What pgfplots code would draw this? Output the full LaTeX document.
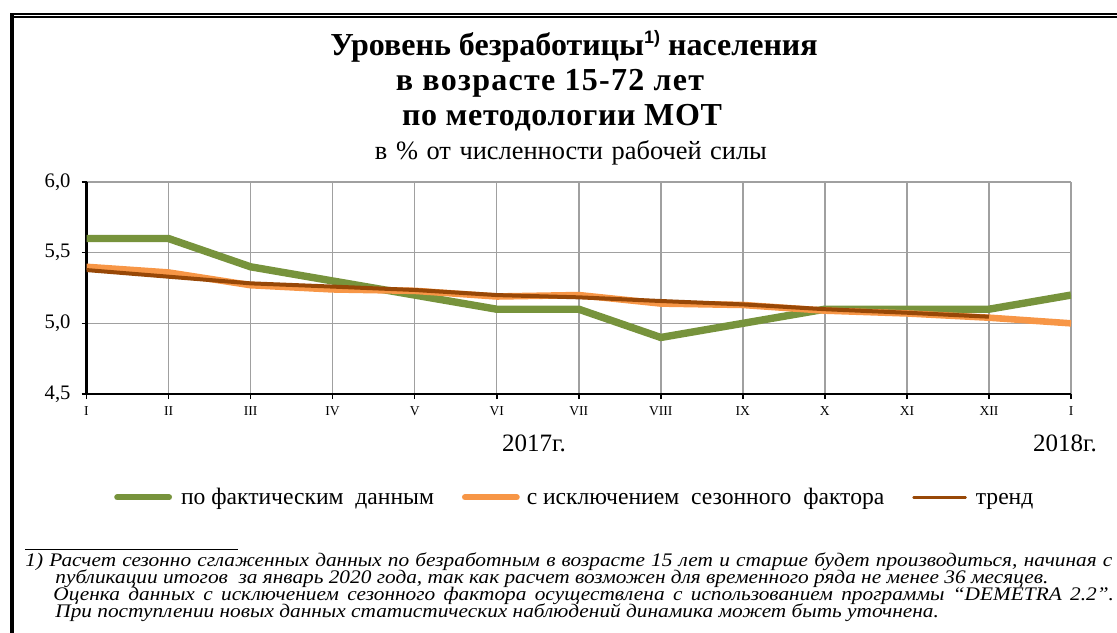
\documentclass[border=0pt]{standalone}
\usepackage{fontspec}
\setmainfont{Liberation Serif}
\newfontfamily\notef[FakeStretch=1.11]{Liberation Serif}
\newfontfamily\arialf{Liberation Sans}
\usepackage{pgfplots}
\pgfplotsset{compat=1.18}
\definecolor{cgreen}{HTML}{77933C}
\definecolor{corange}{HTML}{F79646}
\definecolor{cbrown}{HTML}{984807}
\definecolor{cgrid}{HTML}{A0A0A0}
\begin{document}
\begin{tikzpicture}[x=0.5bp,y=-0.5bp]
\path[use as bounding box] (0,0) rectangle (1117,633);
% frame
\draw[line width=1bp] (10,14.3) -- (1117,14.3);
\draw[line width=0.7bp] (14,17) -- (1117,17);
\draw[line width=2bp] (12,13.3) -- (12,633);
% titles
\begin{scope}[every node/.style={anchor=base, inner sep=0pt, font=\bfseries\fontsize{16bp}{18bp}\selectfont}]
\node at (574,56) {Уровень безработицы\raisebox{6bp}{\arialf\bfseries\fontsize{9bp}{9bp}\selectfont 1)} населения};
\node at (550,91) {\addfontfeature{LetterSpace=4}в возрасте 15-72 лет};
\node at (562,126) {\addfontfeature{LetterSpace=2}по методологии МОТ};
\end{scope}
\node[anchor=base, inner sep=0pt, font=\fontsize{13.2bp}{14bp}\selectfont] at (571,160) {\makebox[196bp][s]{в \% от численности рабочей силы}};
\begin{axis}[
  at={(43.25bp,-197bp)}, anchor=south west,
  scale only axis, width=492.25bp, height=106bp,
  xmin=0, xmax=12, ymin=4.5, ymax=6,
  xtick={0,...,12},
  xticklabels={I,II,III,IV,V,VI,VII,VIII,IX,X,XI,XII,I},
  ytick={4.5,5,5.5,6},
  axis x line*=bottom, axis y line*=left,
  axis line style={black, line width=1.1bp},
  tick align=outside,
  major tick length=2.5bp,
  tick style={black, line width=0.8bp},
  grid=major,
  grid style={cgrid, line width=0.75bp},
  /pgf/number format/.cd, use comma, fixed, fixed zerofill, precision=1, assume math mode=true,
  /pgfplots/.cd,
  yticklabel style={font=\fontsize{10.3bp}{11bp}\selectfont, xshift=-2bp},
  xticklabel style={font=\fontsize{6.8bp}{7bp}\selectfont, yshift=-0.5bp},
  legend columns=3,
  legend style={draw=none, fill=none, at={(0.497,-0.487)}, anchor=center,
    font=\fontsize{11.8bp}{12bp}\selectfont,
    /tikz/every even column/.append style={column sep=12bp}},
  legend cell align=left,
]
\addplot[cgreen, line width=3.7bp,
  legend image code/.code={\draw[cgreen, line width=2.9bp, line cap=round] (0bp,0bp) -- (26bp,0bp);}]
  coordinates {(0,5.6)(1,5.6)(2,5.4)(3,5.3)(4,5.2)(5,5.1)(6,5.1)(7,4.9)(8,5.0)(9,5.1)(10,5.1)(11,5.1)(12,5.2)};
\addlegendentry{\hspace{2.5bp}по фактическим~ данным\strut}
\addplot[corange, line width=3.3bp,
  legend image code/.code={\draw[corange, line width=2.9bp, line cap=round] (0bp,0bp) -- (26bp,0bp);}]
  coordinates {(0,5.40)(1,5.36)(2,5.27)(3,5.24)(4,5.23)(5,5.19)(6,5.20)(7,5.14)(8,5.13)(9,5.09)(10,5.07)(11,5.04)(12,5.00)};
\addlegendentry{\hspace{1.5bp}с исключением~ сезонного~ фактора\strut}
\addplot[cbrown, line width=2bp,
  legend image code/.code={\draw[cbrown, line width=1.3bp, line cap=round] (0bp,0bp) -- (26bp,0bp);}]
  coordinates {(0,5.377)(1,5.33)(2,5.283)(3,5.26)(4,5.236)(5,5.20)(6,5.184)(7,5.158)(8,5.134)(9,5.10)(10,5.075)(11,5.047)};
\addlegendentry{\hspace{2.5bp}тренд\strut}
\end{axis}
\node[font=\fontsize{12.5bp}{13bp}\selectfont] at (534,443) {2017г.};
\node[font=\fontsize{12.5bp}{13bp}\selectfont] at (1065,443) {2018г.};
% footnote
\draw[line width=0.5bp] (25,550) -- (238,550);
\begin{scope}[every node/.style={anchor=base west, inner sep=0pt, font=\notef\itshape\fontsize{9.6bp}{10bp}\selectfont}]
\node at (25,567) {\makebox[543.5bp][s]{1) Расчет сезонно сглаженных данных по безработным в возрасте 15 лет и старше будет производиться, начиная с}};
\node at (55,584) {публикации итогов~ за январь 2020 года, так как расчет возможен для временного ряда не менее 36 месяцев.};
\node at (53,601) {\makebox[530.3bp][s]{Оценка данных с исключением сезонного фактора осуществлена с использованием программы “DEMETRA 2.2”.}};
\node at (55,618) {При поступлении новых данных статистических наблюдений динамика может быть уточнена.};
\end{scope}
\end{tikzpicture}
\end{document}
